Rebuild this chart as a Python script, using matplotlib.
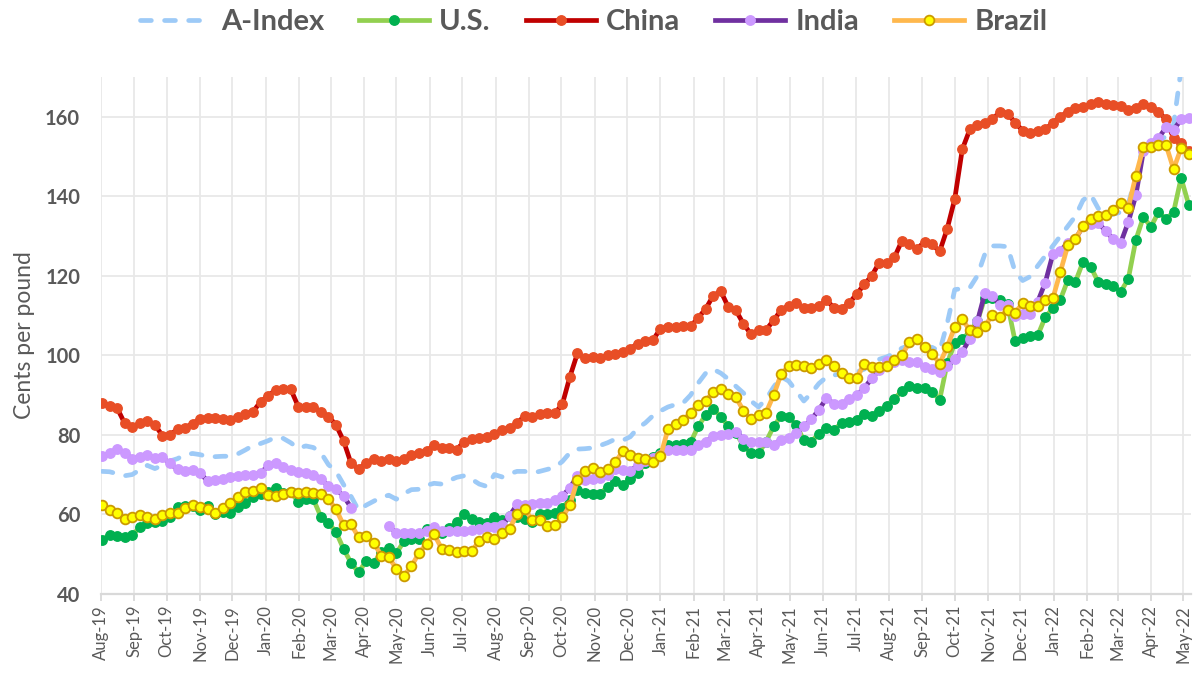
import numpy as np
import pandas as pd
import matplotlib
matplotlib.use("Agg")
import matplotlib.pyplot as plt
import matplotlib.dates as mdates

plt.rcParams["font.family"] = ["Lato", "DejaVu Sans"]

# weekly observations, Aug-2019 .. May-2022
dates = pd.date_range("2019-08-02", periods=145, freq="7D")

a_index = [
    70.8, 70.7, 70.2, 69.7, 70.0, 71.2, 72.3, 71.5, 72.3, 73.4,
    74.0, 75.0, 75.3, 75.0, 74.5, 74.5, 74.6, 74.6, 75.2, 76.2,
    77.3, 77.8, 78.5, 79.4, 79.1, 78.0, 76.6, 77.2, 76.8, 75.5,
    72.5, 70.8, 67.5, 64.5, 61.0, 62.3,
    63.3, 64.3, 64.8, 63.8, 65.2, 66.2, 66.3, 67.3, 67.8, 67.6,
    68.5, 69.3, 69.7, 68.8, 67.6, 67.0, 70.0, 69.4, 70.2, 70.8,
    70.8, 70.4, 70.8, 71.3, 71.8, 73.3, 75.5, 76.4, 76.5, 76.7,
    77.3, 78.0, 78.9, 78.6, 79.5,
    81.7, 83.0, 84.8, 86.0, 87.0, 87.6, 88.0, 90.0, 93.0, 95.5,
    96.5, 95.5, 94.0, 92.2, 90.5, 88.5, 87.0, 89.0, 92.0, 94.6,
    93.5, 91.0, 88.5, 90.5, 92.9, 94.5, 95.0, 95.4, 95.4, 95.8,
    96.5, 98.0, 99.0, 99.6,
    100.5, 101.8, 102.5, 102.5, 102.0, 102.0, 101.0, 108.0, 116.5, 116.8,
    117.0, 120.0, 125.5, 127.5, 127.5, 127.3, 121.0, 118.8, 119.8, 122.5,
    125.0, 127.5, 130.0, 132.5, 135.0, 139.0, 140.5, 137.0, 135.0, 135.5,
    136.0, 138.0, 145.0, 153.0, 153.5, 154.0, 155.0, 158.0, 172.0, 180.0,
]

us = [
    53.6, 54.8, 54.6, 54.2, 54.8, 56.7, 57.9, 58.1, 58.4, 59.2,
    61.9, 62.1, 62.1, 61.1, 62.1, 60.0, 60.6, 60.3, 61.9, 62.8,
    64.4, 65.0, 65.6, 66.7, 65.4, 65.6, 63.1, 63.8, 63.8, 59.4,
    57.8, 55.6, 51.3, 47.8, 45.4, 48.3,
    47.7, 50.5, 51.6, 50.2, 53.2, 53.7, 53.7, 56.2, 56.0, 55.3,
    56.6, 58.0, 60.0, 58.7, 58.0, 57.9, 59.2, 58.5, 59.6, 59.2,
    58.7, 58.0, 60.2, 60.2, 60.4, 61.7, 63.7, 66.2, 65.4, 65.0,
    65.2, 66.9, 68.3, 67.3, 68.8,
    70.5, 72.9, 74.5, 75.5, 77.5, 77.5, 77.8, 78.1, 82.1, 85.0,
    86.4, 84.6, 82.1, 80.4, 77.3, 75.3, 75.3, 78.3, 82.1, 84.8,
    84.4, 82.5, 78.6, 78.3, 80.3, 81.7, 81.3, 82.9, 83.1, 83.8,
    85.3, 84.8, 86.1, 87.3, 89.1, 91.0,
    92.3, 91.7, 91.7, 90.8, 88.8, 98.0, 103.0, 104.0, 106.0, 108.5,
    114.5, 114.5, 114.0, 112.8, 103.5, 104.3, 104.8, 105.0,
    109.6, 111.8, 114.0, 119.0, 118.5, 123.5, 122.3, 118.5, 117.9, 117.5,
    116.0, 119.2, 129.0, 134.8, 132.3, 136.0, 134.3, 136.0, 144.6, 137.9,
]

china = [
    88.0, 87.3, 86.7, 82.9, 81.9, 82.9, 83.5, 82.5, 79.8, 80.0,
    81.4, 81.8, 82.8, 84.0, 84.2, 84.2, 84.0, 83.8, 84.6, 85.3,
    85.8, 88.3, 89.8, 91.3, 91.5, 91.5, 87.1, 86.9, 86.9, 85.8,
    84.6, 82.5, 78.5, 72.8, 71.4, 72.9, 73.9, 73.3, 73.8, 73.3,
    73.9, 74.8, 75.3, 75.8, 77.5, 76.7, 76.8, 76.3, 78.3, 78.9,
    79.2, 79.4, 80.3, 81.1, 81.7, 82.9, 84.8, 84.4, 85.3, 85.6,
    85.4, 87.7, 94.6, 100.5, 99.3, 99.5, 99.3, 100.0, 100.3, 100.8,
    101.7, 102.9, 103.5, 103.8, 106.7, 107.1, 107.1, 107.3, 107.3, 109.4,
    111.7, 115.0, 116.1, 112.1, 111.3, 107.9, 105.3, 106.3, 106.4, 108.8,
    111.4, 112.5, 113.1, 111.9, 111.9, 112.3, 113.9, 111.9, 111.7, 113.1,
    115.4, 117.8, 120.0, 123.3, 123.1, 124.6, 128.8, 127.9, 126.8, 128.5,
    127.9, 126.1, 131.8, 139.3, 151.8, 156.8, 157.9, 158.3, 159.3, 161.3,
    160.8, 158.5, 156.5, 156.0, 156.3, 156.8, 158.5, 160.0, 161.3, 162.3,
    162.5, 163.2, 163.8, 163.3, 162.9, 162.7, 161.8, 162.3, 163.2, 162.5,
    161.3, 159.3, 154.6, 153.3, 151.3,
]

nan = np.nan
india = [
    74.6, 75.4, 76.4, 75.4, 74.0, 74.4, 75.0, 74.2, 74.3, 72.8,
    71.3, 70.8, 71.1, 70.4, 68.3, 68.6, 68.9, 69.4, 69.6, 69.8,
    70.0, 70.3, 72.3, 72.9, 71.9, 71.1, 70.6, 70.3, 70.0, 68.9,
    67.1, 66.3, 64.6, 61.7,
    nan, nan, nan, nan,
    57.1, 55.3, 55.3, 55.4, 55.4, 55.8, 56.7, 55.8, 55.8, 55.8,
    55.8, 56.1, 56.4, 56.7, 56.9, 57.3, 59.6, 62.5, 62.3, 62.5,
    62.8, 62.9, 63.6, 64.6, 66.7, 69.6, 68.6, 68.9, 69.2, 70.0,
    71.4, 71.1, 70.8,
    72.5, 73.3, 74.2, 75.0, 76.1, 76.1, 76.1, 76.1, 77.5, 78.3,
    79.6, 80.0, 80.3, 80.8, 78.9, 78.3, 78.3, 78.3, 77.5, 78.8,
    79.2, 80.4, 82.1, 83.9, 86.3, 89.2, 87.8, 87.8, 88.9, 90.0,
    91.7, 94.2, 96.3, 98.5, 98.4, 98.8,
    98.2, 98.2, 97.1, 96.5, 95.8, 97.3, 99.0, 100.8, 104.2, 108.5,
    115.7, 114.8, 112.7, 112.7, 110.0, 110.4, 110.4, 113.5,
    118.3, 125.4, 126.3, 128.3, 129.2, 132.5, 132.9, 133.3, 131.3, 129.2,
    128.3, 133.5, 140.2, 151.3, 153.5, 154.6, 157.3, 156.7, 159.3, 159.6,
]

brazil = [
    62.3, 61.1, 60.3, 58.9, 59.3, 59.9, 59.4, 58.8, 59.8, 60.3,
    60.3, 61.6, 62.3, 61.9, 61.4, 60.4, 61.5, 62.9, 64.4, 65.6,
    65.9, 66.5, 64.8, 64.6, 65.0, 65.7, 65.4, 65.6, 65.3, 65.0,
    63.8, 61.3, 57.3, 57.5, 54.2, 54.6,
    52.9, 49.6, 49.2, 46.3, 44.6, 46.9, 50.3, 52.5, 55.0, 51.4,
    51.1, 50.4, 50.8, 50.8, 53.3, 54.4, 53.8, 55.3, 56.4, 60.0,
    61.3, 58.6, 58.6, 57.1, 57.3, 59.2, 62.3, 68.6, 70.8, 71.7,
    70.6, 71.3, 73.1, 75.8, 74.8,
    74.2, 73.8, 73.1, 74.6, 81.4, 82.8, 83.6, 85.6, 87.5, 88.6,
    90.8, 91.4, 90.3, 89.4, 86.1, 83.9, 85.0, 85.6, 90.0, 95.3,
    97.3, 97.5, 97.3, 96.9, 97.8, 98.9, 97.3, 95.6, 94.2, 94.2,
    97.9, 97.1, 97.1, 97.4, 98.7, 100.0,
    103.3, 104.0, 102.1, 100.4, 97.9, 102.1, 107.1, 109.0, 106.3, 105.8,
    107.3, 110.2, 109.6, 111.5, 110.7, 113.1, 112.3, 112.3,
    114.0, 114.3, 121.0, 127.7, 129.3, 132.5, 134.3, 135.0, 135.2, 136.5,
    138.2, 137.1, 145.2, 152.3, 152.3, 152.9, 152.9, 146.8, 152.1, 150.7,
]

TEXT = "#595959"
GRID = "#E8E8E8"

fig = plt.figure(figsize=(11.95, 6.81), dpi=100)
ax = fig.add_axes([0.0845, 0.128, 0.912, 0.759])

ax.plot(dates, a_index, color="#9DCAF7", lw=3.4, linestyle=(0, (2.3, 2.8)),
        dash_capstyle="round", label="A-Index", zorder=3)
ax.plot(dates, us, color="#92D050", lw=3.4, marker="o", ms=6.8,
        mfc="#00B050", mec="#00B050", label="U.S.", zorder=4)
ax.plot(dates, china, color="#C00000", lw=3.4, marker="o", ms=6.8,
        mfc="#E84E26", mec="#E84E26", label="China", zorder=5)
ax.plot(dates, india, color="#7030A0", lw=3.4, marker="o", ms=6.8,
        mfc="#CC99FF", mec="#CC99FF", label="India", zorder=6)
ax.plot(dates, brazil, color="#FFB84D", lw=3.4, marker="o", ms=7.0,
        mfc="#FFFF00", mec="#CC9A00", mew=1.3, label="Brazil", zorder=7)

ax.set_ylim(40, 170)
ax.set_yticks(range(40, 170, 20))
ax.set_xlim(pd.Timestamp("2019-08-01"), pd.Timestamp("2022-05-08"))
ax.xaxis.set_major_locator(mdates.MonthLocator())
ax.xaxis.set_major_formatter(mdates.DateFormatter("%b-%y"))

ax.grid(True, color=GRID, lw=1.3, zorder=0)
ax.set_axisbelow(True)
for side in ("top", "right", "left"):
    ax.spines[side].set_visible(False)
ax.spines["bottom"].set_color("#D9D9D9")
ax.spines["bottom"].set_linewidth(1.6)

ax.tick_params(axis="y", length=0, pad=15, labelsize=14.5, labelcolor=TEXT)
ax.tick_params(axis="x", length=5, width=1.3, color="#D9D9D9",
               labelsize=12, labelcolor=TEXT, rotation=90, pad=3)
for lbl in ax.get_yticklabels():
    lbl.set_fontweight("bold")

ax.set_ylabel("Cents per pound", fontsize=16.5, color=TEXT, labelpad=7)

leg = fig.legend(loc="upper center", bbox_to_anchor=(0.497, 1.025), ncol=5,
                 frameon=False, fontsize=21, handlelength=2.4,
                 handletextpad=0.35, columnspacing=1.2)
for t in leg.get_texts():
    t.set_color(TEXT)
    t.set_fontweight("bold")

fig.savefig("out.png", dpi=100)
